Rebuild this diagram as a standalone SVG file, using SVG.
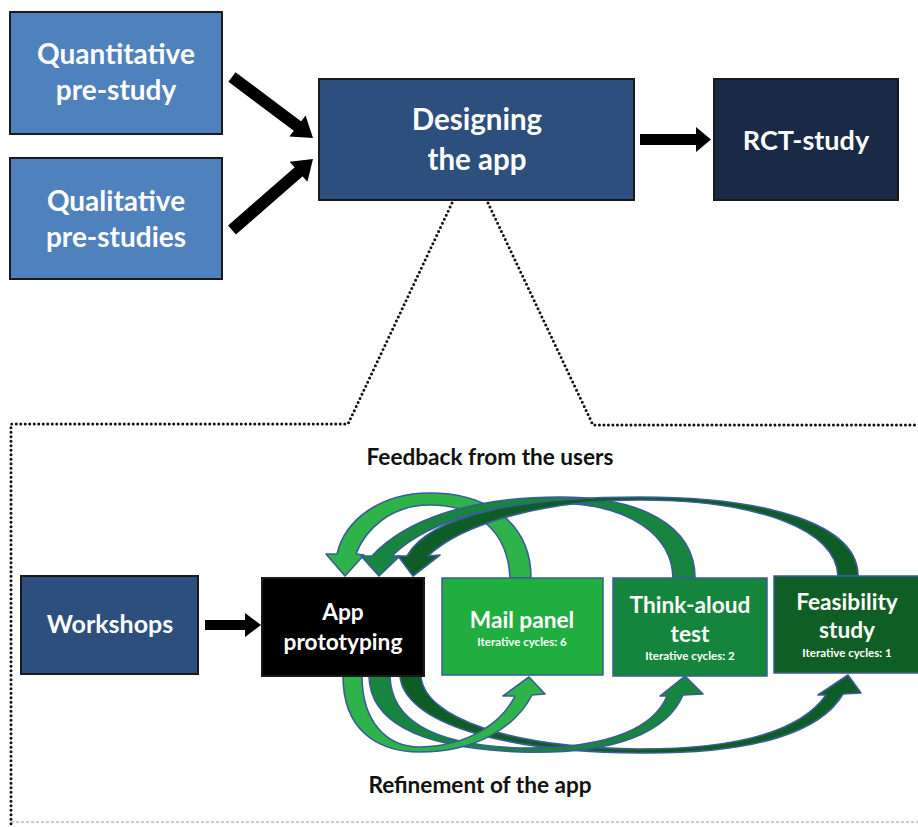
<svg xmlns="http://www.w3.org/2000/svg" width="918" height="827" viewBox="0 0 918 827">
<style>
.lbl{font-family:Lato,"Open Sans","Liberation Sans",sans-serif;font-weight:bold;fill:#fff;text-anchor:middle}
.mid{font-size:22.7px}
.small{font-size:11.5px}
.cap{font-family:Lato,"Open Sans","Liberation Sans",sans-serif;font-weight:bold;fill:#111;font-size:22.6px;text-anchor:middle}
.box{stroke:#1a1a1a;stroke-width:2}
.gbox{stroke:#3a5d96;stroke-width:1.5}
.dot{fill:none;stroke:#111;stroke-width:3;stroke-dasharray:0 4.5;stroke-linecap:round}
.a1{fill:#2db34a;stroke:#3a5d96;stroke-width:1.6;stroke-linejoin:round}
.a2{fill:#17843f;stroke:#3a5d96;stroke-width:1.6;stroke-linejoin:round}
.a3{fill:#0e5c26;stroke:#3a5d96;stroke-width:1.6;stroke-linejoin:round}
</style>
<rect width="918" height="827" fill="#fff"/>

<g id="connectors">
  <!-- dotted zoom lines -->
  <polyline class="dot" points="452,203 348,424 11,424 11,827"/>
  <polyline class="dot" points="488,203 593,425 918,425"/>
  <line x1="11" y1="822" x2="918" y2="822" stroke="#999" stroke-width="1" stroke-dasharray="3 2"/>

  <!-- top black arrows -->
  <line x1="232" y1="77" x2="298" y2="126.5" stroke="#000" stroke-width="12"/>
  <polygon points="313,138 289.4,136.6 305.6,115.4" fill="#000"/>
  <line x1="232" y1="230" x2="299" y2="171.5" stroke="#000" stroke-width="12"/>
  <polygon points="313,159 307.4,181.8 289.6,161.8" fill="#000"/>
  <rect x="640" y="134" width="57" height="11" fill="#000"/>
  <polygon points="696,127 711,139.5 696,152" fill="#000"/>
  <rect x="205" y="620" width="42" height="10" fill="#000"/>
  <polygon points="245,613 261,625 245,637" fill="#000"/>

  <!-- feedback arrows (top): curved, back to App prototyping -->
  <path class="a1" d="M531,578 C531,525 490,493 430,493 C380,493 345,520 337,554 L326,554 L345,576 L364,555 L356,554 C365,530 390,505 430,505 C475,505 508,530 510,578 Z"/>
  <path class="a2" d="M695,578 C695,525 640,497 560,497 C470,497 405,520 372,556 L361,556 L379,576 L400,556 L392,556 C420,528 480,503 560,503 C630,505 672,535 673,578 Z"/>
  <path class="a3" d="M858,576 C858,525 770,497 640,497 C520,497 430,515 407,556 L398,556 L413,576 L440,555 L428,556 C460,525 540,500 640,500 C760,500 836,530 838,576 Z"/>

  <!-- refinement arrows (bottom): curved, from App prototyping -->
  <path class="a3" d="M400,676 C404,722 500,752 640,753 C760,754 822,730 843,694 L861,693 L848,675 L818,695 L826,695 C805,725 755,749 640,749 C510,748 424,718 421,676 Z"/>
  <path class="a2" d="M369,676 C370,722 420,748 520,752 C620,755 668,730 683,695 L703,694 L685,676 L660,696 L667,696 C655,725 615,749 520,748 C430,745 391,718 390,676 Z"/>
  <path class="a1" d="M343,676 C343,728 375,752 420,752 C475,752 515,728 532,695 L545,694 L529,677 L503,696 L515,696 C502,722 470,746 420,747 C385,747 362,720 362,676 Z"/>
</g>

<g id="quantitative">
  <rect class="box" x="10" y="12" width="212" height="122" fill="#4f81bd"/>
  <text class="lbl" font-size="28" x="116" y="64">Quantitative</text>
  <text class="lbl" font-size="28" x="116" y="100">pre-study</text>
</g>
<g id="qualitative">
  <rect class="box" x="10" y="158" width="212" height="121" fill="#4f81bd"/>
  <text class="lbl" font-size="28" x="116" y="211">Qualitative</text>
  <text class="lbl" font-size="28" x="116" y="247">pre-studies</text>
</g>
<g id="designing">
  <rect class="box" x="319" y="79" width="315" height="121" fill="#2c4f7d"/>
  <text class="lbl" font-size="29.5" x="477" y="130">Designing</text>
  <text class="lbl" font-size="29.5" x="477" y="170">the app</text>
</g>
<g id="rct">
  <rect class="box" x="714" y="79" width="184" height="121" fill="#1a2945"/>
  <text class="lbl" font-size="27" x="806" y="150">RCT-study</text>
</g>

<g id="feedback-label"><text class="cap" x="490" y="465">Feedback from the users</text></g>
<g id="refinement-label"><text class="cap" x="480" y="793">Refinement of the app</text></g>

<g id="workshops">
  <rect class="box" x="21" y="576" width="177" height="98" fill="#2c4f7d"/>
  <text class="lbl" font-size="25" x="110" y="633">Workshops</text>
</g>
<g id="app-prototyping">
  <rect class="box" x="262" y="578" width="162" height="98" fill="#000"/>
  <text class="lbl mid" x="343" y="620">App</text>
  <text class="lbl mid" x="343" y="650">prototyping</text>
</g>
<g id="mail-panel">
  <rect class="gbox" x="442" y="578" width="161" height="97" fill="#1fae3f"/>
  <text class="lbl mid" x="522" y="628">Mail panel</text>
  <text class="lbl small" x="522" y="646">Iterative cycles: 6</text>
</g>
<g id="think-aloud">
  <rect class="gbox" x="613" y="578" width="154" height="98" fill="#15843c"/>
  <text class="lbl mid" x="690" y="613">Think-aloud</text>
  <text class="lbl mid" x="690" y="642">test</text>
  <text class="lbl small" x="690" y="660">Iterative cycles: 2</text>
</g>
<g id="feasibility">
  <rect class="gbox" x="774" y="576" width="150" height="97" fill="#0f5e25"/>
  <text class="lbl mid" x="847" y="610">Feasibility</text>
  <text class="lbl mid" x="847" y="638">study</text>
  <text class="lbl small" x="847" y="657">Iterative cycles: 1</text>
</g>
</svg>
